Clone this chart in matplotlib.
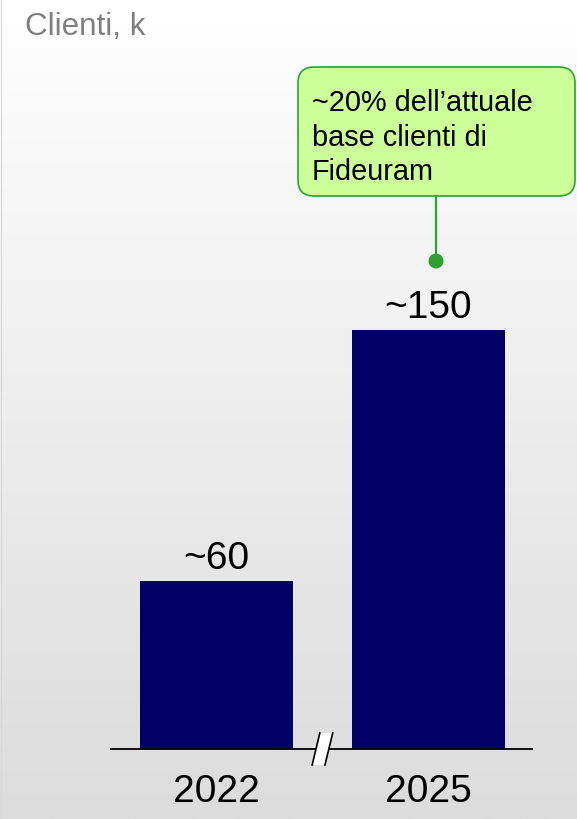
import numpy as np
import matplotlib
matplotlib.use("Agg")
import matplotlib.pyplot as plt
from matplotlib.patches import FancyBboxPatch, Polygon, Circle
from matplotlib.lines import Line2D
from matplotlib.transforms import IdentityTransform

plt.rcParams['font.family'] = ['Liberation Sans', 'DejaVu Sans']

# ---- data ----
categories = ['2022', '2025']
values = [60, 150]
value_labels = ['~60', '~150']
title = 'Clienti, k'
callout_lines = ['~20% dell\u2019attuale', 'base clienti di', 'Fideuram']

# ---- figure ----
W, H, DPI = 577, 820, 100
fig = plt.figure(figsize=(W / DPI, H / DPI), dpi=DPI)
ax = fig.add_axes([0, 0, 1, 1])
ax.set_xlim(-1.021, 1.70)
ax.set_ylim(-25.06, 268.5)
ax.axis('off')

# gradient background
grad = np.linspace(1.0, 220 / 255, 256).reshape(-1, 1)
grad = np.dstack([grad, grad, grad])
ax.imshow(grad, extent=[-1.021, 1.70, -25.06, 268.5], aspect='auto',
          zorder=0, interpolation='bilinear')

def disp(x, y):
    """pixel coords from top-left -> display coords"""
    return (x, H - y)

# left edge line
fig.add_artist(Line2D([0.5 / W, 0.5 / W], [0, 1], transform=fig.transFigure,
                      color='#d8d8d8', lw=0.8))

# bars
x = np.arange(len(categories))
ax.bar(x, values, width=0.722, color='#000066', zorder=2)

# baseline axis
ax.plot([-0.502, 1.493], [0, 0], color='black', lw=1.3, zorder=3,
        solid_capstyle='butt')

# break mark between bars
ax_pt = ax.transData.transform((0.5, 0))
cx, cy = ax_pt
tl = (cx - 2.7, cy + 16); tr = (cx + 10.2, cy + 16)
br = (cx + 2.4, cy - 16); bl = (cx - 10.4, cy - 16)
ax.add_patch(Polygon([tl, tr, br, bl], closed=True, facecolor='white',
                     edgecolor='none', transform=IdentityTransform(), zorder=4))
for a, b in [(bl, tl), (br, tr)]:
    ax.add_line(Line2D([a[0], b[0]], [a[1], b[1]], color='black', lw=1.2,
                       transform=IdentityTransform(), zorder=5))

# value labels
for xi, v, lab in zip(x, values, value_labels):
    ax.annotate(lab, (xi, v), xytext=(0, 9.3), textcoords='offset points',
                ha='center', va='baseline', fontsize=28, color='black', zorder=6)

# category labels
for xi, cat in zip(x, categories):
    ax.annotate(cat, (xi, 0), xytext=(0, -37.4), textcoords='offset points',
                ha='center', va='baseline', fontsize=28, color='black', zorder=6)

# title
fig.text(25 / W, 1 - 35 / H, title, fontsize=22.6, color='#7f7f7f', va='baseline',
         ha='left')

# callout
green = '#2ea22e'
box_x0, box_y0, box_x1, box_y1 = 298, 68, 575, 197
x0d, y0d = disp(box_x0, box_y1)
box = FancyBboxPatch((x0d, y0d), box_x1 - box_x0, box_y1 - box_y0,
                     boxstyle='round,pad=0,rounding_size=16',
                     facecolor='#ccff99', edgecolor=green, lw=1.2,
                     transform=IdentityTransform(), zorder=7)
fig.add_artist(box)
lx = 436
p1 = disp(lx, box_y1); p2 = disp(lx, 262)
fig.add_artist(Line2D([p1[0], p2[0]], [p1[1], p2[1]], color=green, lw=1.6,
                      transform=IdentityTransform(), zorder=7))
fig.add_artist(Circle(disp(lx, 262), 7.5, facecolor=green, edgecolor='none',
                      transform=IdentityTransform(), zorder=8))
baselines = [110.7, 146.0, 180.5]
for line, by in zip(callout_lines, baselines):
    fig.text(312 / W, 1 - by / H, line, fontsize=20.8, color='black',
             va='baseline', ha='left', zorder=9)

fig.savefig('out.png', dpi=DPI)
